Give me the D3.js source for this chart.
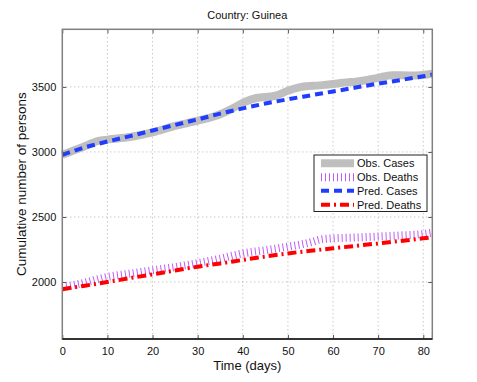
<!DOCTYPE html>
<html><head><meta charset="utf-8">
<script src="https://cdn.jsdelivr.net/npm/d3@7"></script>
<style>body{margin:0;background:#fff}svg{display:block;font-family:"Liberation Sans",Arial,sans-serif}</style>
</head><body><svg id="c" width="477" height="382"></svg>
<script>
const title = "Country: Guinea";
const xLabel = "Time (days)";
const yLabel = "Cumulative number of persons";
const xTicks = [0,10,20,30,40,50,60,70,80];
const yTicks = [2000,2500,3000,3500];
const legendLabels = ["Obs. Cases","Obs. Deaths","Pred. Cases","Pred. Deaths"];

const obsCasesDays = [0,4,8,10,15,20,25,30,35,38,40,43,47,50,53,57,60,63,65,70,73,77,80,82];
const obsCasesVals = [2978,3030,3085,3095,3115,3150,3200,3240,3290,3340,3378,3415,3430,3470,3500,3512,3522,3535,3540,3570,3590,3588,3592,3602];

const obsDeathsDays = [0,5,10,15,20,25,30,35,40,45,50,55,57,60,65,70,75,80,82];
const obsDeathsVals = [1960,1995,2040,2065,2090,2115,2145,2180,2220,2245,2272,2305,2325,2336,2342,2350,2358,2369,2379];

const predCasesDays = [0,5,10,15,20,25,30,35,40,45,50,55,60,65,70,75,80,82];
const predCasesVals = [2978,3035,3080,3122,3165,3208,3250,3295,3335,3372,3405,3435,3465,3495,3525,3553,3582,3595];

const predDeathsDays = [0,5,10,15,20,25,30,35,40,45,50,55,60,65,70,75,80,82];
const predDeathsVals = [1945,1972,2000,2030,2059,2088,2118,2143,2170,2196,2220,2240,2259,2278,2297,2316,2336,2344];

const svg = d3.select("#c");
const L=62.3, R=432.3, T=29.3, B=339;
const x = d3.scaleLinear().domain([0,82]).range([L,R]);
const y = d3.scaleLinear().domain([1562,3943]).range([B,T]);

// grid
const g = svg.append("g");
g.selectAll(".gx").data(xTicks.filter(d=>d>0)).enter().append("line")
 .attr("x1",d=>x(d)).attr("x2",d=>x(d)).attr("y1",T).attr("y2",B)
 .attr("stroke","#b0b0b0").attr("stroke-width",1).attr("stroke-dasharray","1,3");
g.selectAll(".gy").data(yTicks).enter().append("line")
 .attr("y1",d=>y(d)).attr("y2",d=>y(d)).attr("x1",L).attr("x2",R)
 .attr("stroke","#b0b0b0").attr("stroke-width",1).attr("stroke-dasharray","1,3");

const line = d3.line().curve(d3.curveMonotoneX);
function pts(days, vals){return days.map((d,i)=>[x(d),y(vals[i])]);}

svg.append("path").attr("d",line(pts(obsCasesDays,obsCasesVals))).attr("fill","none")
 .attr("stroke","#bfbfbf").attr("stroke-width",8).attr("stroke-linejoin","round");
svg.append("path").attr("d",line(pts(obsDeathsDays,obsDeathsVals))).attr("fill","none")
 .attr("stroke","#bf5cf5").attr("stroke-width",8).attr("stroke-dasharray","1,3");
svg.append("path").attr("d",line(pts(predCasesDays,predCasesVals))).attr("fill","none")
 .attr("stroke","#1f3cff").attr("stroke-width",4).attr("stroke-dasharray","8,5");
svg.append("path").attr("d",line(pts(predDeathsDays,predDeathsVals))).attr("fill","none")
 .attr("stroke","#ff0000").attr("stroke-width",4).attr("stroke-dasharray","9,4,2,4");

// axes
const fmt = d3.format("d");
const xAxis = svg.append("g").attr("transform",`translate(0,${B})`)
 .call(d3.axisBottom(x).tickValues(xTicks).tickFormat(fmt).tickSize(-4).tickPadding(8));
const xAxisTop = svg.append("g").attr("transform",`translate(0,${T})`)
 .call(d3.axisTop(x).tickValues(xTicks).tickSize(-4).tickFormat(""));
const yAxis = svg.append("g").attr("transform",`translate(${L},0)`)
 .call(d3.axisLeft(y).tickValues(yTicks).tickFormat(fmt).tickSize(-4).tickPadding(6));
const yAxisR = svg.append("g").attr("transform",`translate(${R},0)`)
 .call(d3.axisRight(y).tickValues(yTicks).tickSize(-4).tickFormat(""));
[xAxis,xAxisTop,yAxis,yAxisR].forEach(a=>{
  a.select(".domain").remove();
  a.selectAll("line").attr("stroke","#555");
  a.selectAll("text").attr("font-size",11).attr("fill","#111").attr("font-family","Liberation Sans, Arial, sans-serif");
});
svg.append("rect").attr("x",L).attr("y",T).attr("width",R-L).attr("height",B-T)
 .attr("fill","none").attr("stroke","#808080").attr("stroke-width",1.5);
svg.append("line").attr("x1",L).attr("x2",R).attr("y1",B).attr("y2",B).attr("stroke","#111").attr("stroke-width",1.5);

svg.append("text").attr("x",(L+R)/2).attr("y",19).attr("text-anchor","middle")
 .attr("font-size",11).attr("fill","#111").text(title);
svg.append("text").attr("x",(L+R)/2).attr("y",370).attr("text-anchor","middle")
 .attr("font-size",13).attr("fill","#111").text(xLabel);
svg.append("text").attr("transform",`translate(26,${(T+B)/2}) rotate(-90)`).attr("text-anchor","middle")
 .attr("font-size",13.5).attr("fill","#111").text(yLabel);

// legend
const lg = svg.append("g");
lg.append("rect").attr("x",314).attr("y",155).attr("width",113).attr("height",56.5)
 .attr("fill","#fff").attr("stroke","#222").attr("stroke-width",1);
const styles = [
 {c:"#bfbfbf",w:8,da:null},
 {c:"#bf5cf5",w:8,da:"1,3"},
 {c:"#1f3cff",w:4,da:"8,5"},
 {c:"#ff0000",w:4,da:"9,4,2,4"}
];
const ly = [163.3,177.3,190.8,204.8];
legendLabels.forEach((t,i)=>{
  const s=styles[i];
  const ln = lg.append("line").attr("x1",321).attr("x2",354).attr("y1",ly[i]).attr("y2",ly[i])
   .attr("stroke",s.c).attr("stroke-width",s.w);
  if(s.da) ln.attr("stroke-dasharray",s.da);
  lg.append("text").attr("x",357).attr("y",ly[i]+4).attr("font-size",11).attr("fill","#111").text(t);
});
</script></body></html>
